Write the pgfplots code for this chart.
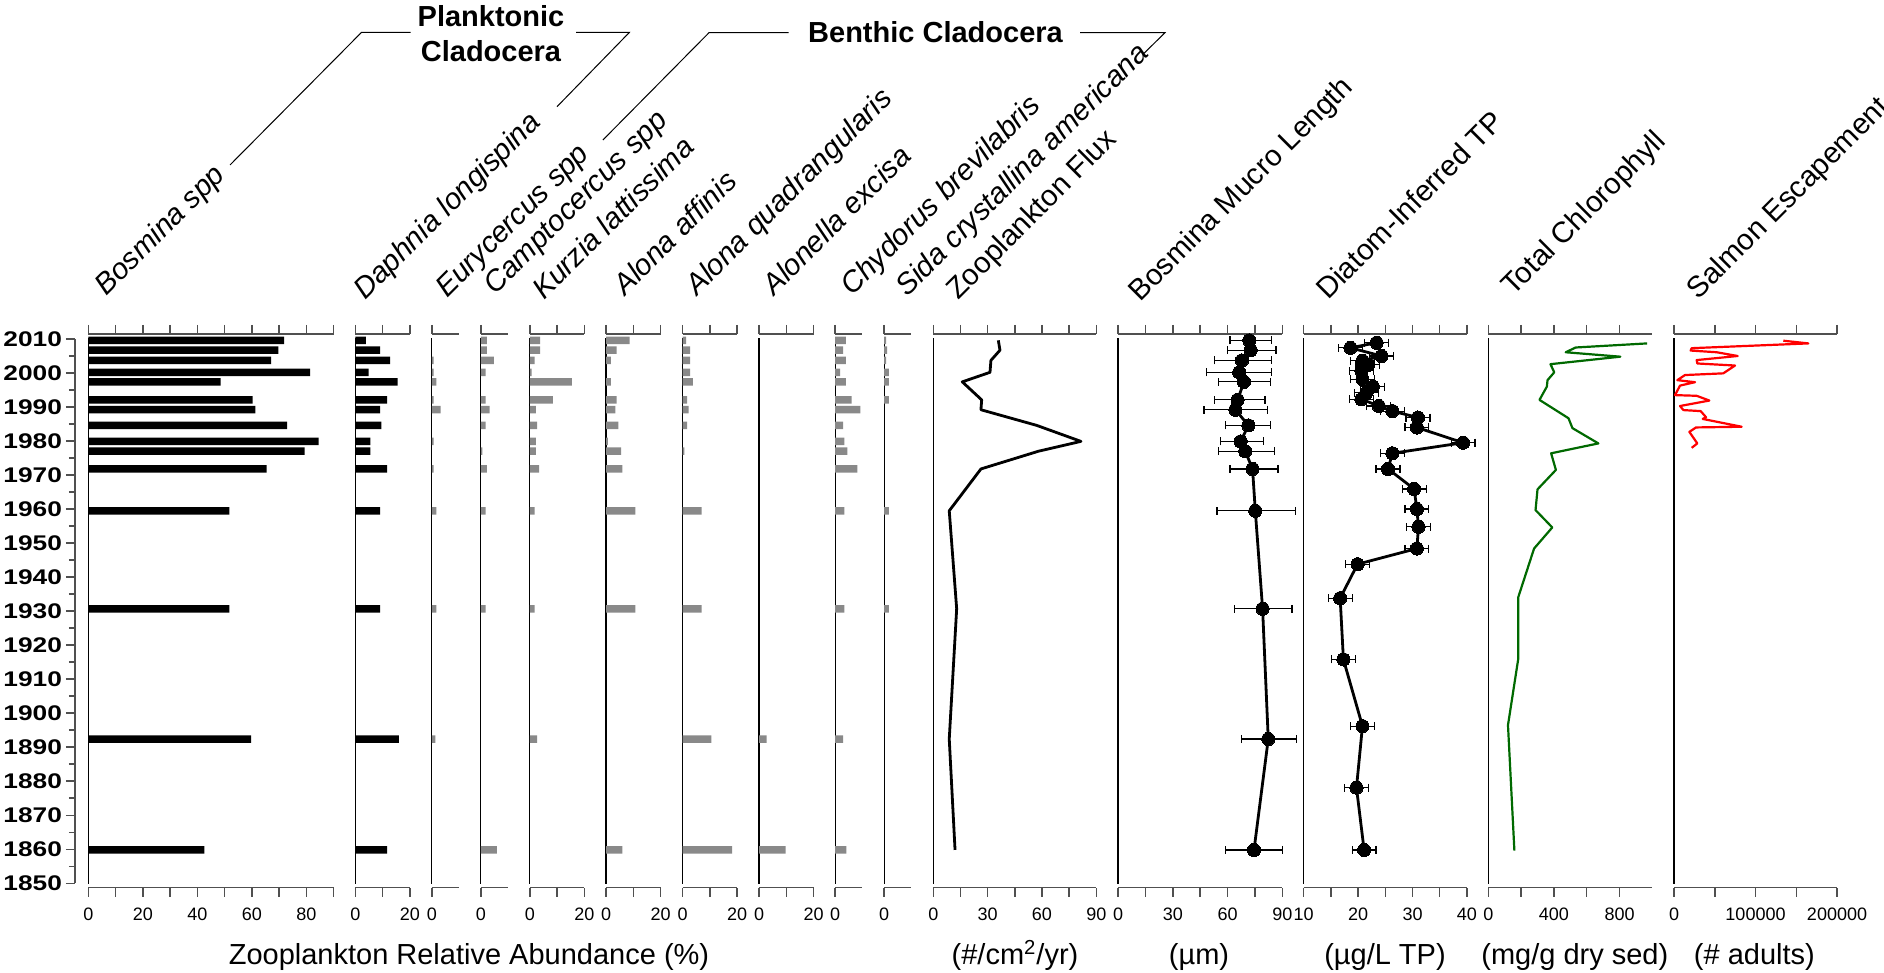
\documentclass[border=0pt]{standalone}
\usepackage{graphicx}
\usepackage{pgfplots}
\pgfplotsset{compat=1.18}
\usepackage{fontspec}
\setmainfont{Liberation Sans}
\newcommand{\yl}[1]{\scalebox{1.24}[1]{#1}}
\definecolor{bargray}{RGB}{137,137,137}
\definecolor{chlgreen}{RGB}{0,105,0}
\definecolor{axgray}{RGB}{80,80,80}

\pgfplotsset{
  panel/.style={
    scale only axis, height=276.85pt,
    ymin=1848.7, ymax=2011.47, xmin=0,
    separate axis lines,
    axis x line=box, axis y line=left,
    x axis line style={-, draw=axgray, line width=0.75pt},
    y axis line style={-, draw=black, line width=0.6pt, shorten <=2pt, shorten >=2pt},
    ytick=\empty,
    xtick pos=both, xticklabel pos=lower,
    tick align=outside, major tick length=4.5pt,
    tick style={draw=axgray, line width=0.75pt},
    xticklabel style={font=\fontsize{9}{10}\selectfont, yshift=-2pt, text=black},
    clip=false,
  },
  pct20/.style={panel, width=27.27pt, xmax=20, xtick={0,10,20}, xticklabels={0,,20}},
  pct10/.style={panel, width=13.635pt, xmax=10, xtick={0}, xticklabels={0}},
  bp/.style={xbar, bar width=3.75pt, draw=none, fill=#1},
}

\begin{document}
\begin{tikzpicture}
\useasboundingbox (0,0) rectangle (942pt,486.5pt);

% year axis
\begin{axis}[at={(37.5pt,44.85pt)}, anchor=south west, scale only axis, width=10pt, height=272.15pt,
  xmin=0, xmax=1, ymin=1850, ymax=2010,
  axis x line=none, axis y line=left, y axis line style={-, line width=0.75pt, draw=axgray},
  ytick={1850,1860,1870,1880,1890,1900,1910,1920,1930,1940,1950,1960,1970,1980,1990,2000,2010},
  yticklabels={\yl{1850},\yl{1860},\yl{1870},\yl{1880},\yl{1890},\yl{1900},\yl{1910},\yl{1920},\yl{1930},\yl{1940},\yl{1950},\yl{1960},\yl{1970},\yl{1980},\yl{1990},\yl{2000},\yl{2010}},
  minor ytick={1855,1865,1875,1885,1895,1905,1915,1925,1935,1945,1955,1965,1975,1985,1995,2005},
  tick align=outside, major tick length=4.5pt, minor tick length=3pt,
  tick style={draw=axgray, line width=0.75pt},
  yticklabel style={font=\fontsize{10.6}{12}\selectfont\bfseries, xshift=1.5pt},
]
\end{axis}

% Bosmina
\begin{axis}[panel, at={(44.15pt,42.65pt)}, anchor=south west, width=122.72pt, xmax=90,
  xtick={0,10,20,30,40,50,60,70,80,90}, xticklabels={0,,20,,40,,60,,80,}]
\addplot[bp=black] coordinates {(71.8,2009.6)(69.7,2006.7)(67.0,2003.7)(81.3,2000.2)(48.5,1997.4)(60.3,1992.1)(61.3,1989.2)(72.9,1984.6)(84.5,1979.9)(79.3,1977.0)(65.4,1971.8)(51.7,1959.5)(51.7,1930.7)(59.7,1892.4)(42.6,1859.8)};
\end{axis}

% Daphnia
\begin{axis}[pct20, at={(177.65pt,42.65pt)}, anchor=south west]
\addplot[bp=black] coordinates {(3.9,2009.6)(9.1,2006.7)(12.8,2003.7)(4.9,2000.2)(15.5,1997.4)(11.7,1992.1)(9.1,1989.2)(9.6,1984.6)(5.5,1979.9)(5.5,1977.0)(11.7,1971.8)(9.1,1959.5)(9.1,1930.7)(16.0,1892.4)(11.7,1859.8)};
\end{axis}

% Eurycercus
\begin{axis}[pct10, at={(215.9pt,42.65pt)}, anchor=south west]
\addplot[bp=bargray] coordinates {(0.7,2003.7)(0.7,2000.2)(1.7,1997.4)(0.7,1992.1)(3.2,1989.2)(0.7,1979.9)(0.7,1971.8)(1.7,1959.5)(1.7,1930.7)(1.3,1892.4)};
\end{axis}

% Camptocercus
\begin{axis}[pct10, at={(240.4pt,42.65pt)}, anchor=south west]
\addplot[bp=bargray] coordinates {(2.2,2009.6)(2.2,2006.7)(4.8,2003.7)(1.8,2000.2)(1.8,1992.1)(3.2,1989.2)(1.8,1984.6)(0.6,1977.0)(2.2,1971.8)(1.8,1959.5)(1.8,1930.7)(5.9,1859.8)};
\end{axis}

% Kurzia
\begin{axis}[pct20, at={(264.9pt,42.65pt)}, anchor=south west]
\addplot[bp=bargray] coordinates {(3.8,2009.6)(3.8,2006.7)(1.8,2003.7)(0.7,2000.2)(15.4,1997.4)(8.5,1992.1)(2.2,1989.2)(2.7,1984.6)(2.2,1979.9)(2.2,1977.0)(3.4,1971.8)(1.8,1959.5)(1.8,1930.7)(2.7,1892.4)};
\end{axis}

% Alona affinis
\begin{axis}[pct20, at={(303.0pt,42.65pt)}, anchor=south west]
\addplot[bp=bargray] coordinates {(8.7,2009.6)(3.9,2006.7)(1.8,2003.7)(1.8,1997.4)(3.9,1992.1)(3.4,1989.2)(4.5,1984.6)(0.7,1979.9)(5.5,1977.0)(6.0,1971.8)(10.8,1959.5)(10.8,1930.7)(6.0,1859.8)};
\end{axis}

% Alona quadrangularis
\begin{axis}[pct20, at={(341.25pt,42.65pt)}, anchor=south west]
\addplot[bp=bargray] coordinates {(1.3,2009.6)(2.8,2006.7)(2.8,2003.7)(2.8,2000.2)(3.8,1997.4)(1.7,1992.1)(2.2,1989.2)(1.7,1984.6)(0.7,1977.0)(7.0,1959.5)(7.0,1930.7)(10.6,1892.4)(18.2,1859.8)};
\end{axis}

% Alonella excisa
\begin{axis}[pct20, at={(379.5pt,42.65pt)}, anchor=south west]
\addplot[bp=bargray] coordinates {(2.8,1892.4)(9.8,1859.8)};
\end{axis}

% Chydorus
\begin{axis}[pct10, at={(417.6pt,42.65pt)}, anchor=south west]
\addplot[bp=bargray] coordinates {(3.9,2009.6)(2.9,2006.7)(3.9,2003.7)(1.8,2000.2)(3.9,1997.4)(6.0,1992.1)(9.2,1989.2)(2.9,1984.6)(3.4,1979.9)(4.5,1977.0)(8.1,1971.8)(3.4,1959.5)(3.4,1930.7)(2.9,1892.4)(4.1,1859.8)};
\end{axis}

% Sida
\begin{axis}[pct10, at={(442.1pt,42.65pt)}, anchor=south west]
\addplot[bp=bargray] coordinates {(0.7,2009.6)(1.1,2006.7)(0.7,2003.7)(1.7,2000.2)(1.7,1997.4)(1.7,1992.1)(1.7,1959.5)(1.7,1930.7)};
\end{axis}

% Flux
\begin{axis}[panel, at={(466.65pt,42.65pt)}, anchor=south west, width=81.5pt, xmax=90,
  xtick={0,15,30,45,60,75,90}, xticklabels={0,,30,,60,,90}]
\addplot[black, line width=1.4pt, line join=round] coordinates {(35.9,2009.6)(36.8,2006.7)(31.8,2003.7)(31.3,2000.2)(16.0,1997.4)(26.7,1992.1)(26.3,1989.2)(57.1,1984.6)(81.5,1979.9)(58.0,1977.0)(26.3,1971.8)(8.8,1959.5)(12.9,1930.7)(8.8,1892.4)(12.0,1859.8)};
\end{axis}

% Mucro
\begin{axis}[panel, at={(559.0pt,42.65pt)}, anchor=south west, width=82.15pt, xmax=90,
  xtick={0,15,30,45,60,75,90}, xticklabels={0,,30,,60,,90}]
\addplot[black, line width=1.4pt, line join=round, mark=*, mark size=3.3pt, mark options={solid, fill=black, line width=0pt},
  error bars/.cd, x dir=both, x explicit, error mark=|,
  error bar style={line width=0.6pt, black},
  error mark options={line width=0.6pt, mark size=2pt, black}]
 table[x=x, y=y, x error plus=ep, x error minus=em] {
 x y ep em
 71.9 2009.6 12.3 10.6
 72.7 2006.7 13.8 12.8
 67.9 2003.7 16.3 15.0
 66.4 2000.2 17.8 17.8
 69.0 1997.4 14.4 13.9
 65.5 1992.1 15.0 12.6
 64.3 1989.2 17.8 17.2
 71.4 1984.6 12.0 12.4
 67.2 1979.9 12.6 11.2
 69.7 1977.0 16.1 14.6
 73.7 1971.8 13.9 12.4
 75.2 1959.5 21.9 21.0
 79.2 1930.7 16.1 15.5
 82.3 1892.4 15.5 14.6
 74.5 1859.8 15.5 15.5
 };
\end{axis}

% Diatom TP
\begin{axis}[panel, at={(651.85pt,42.65pt)}, anchor=south west, width=81.6pt, xmin=10, xmax=40,
  xtick={10,15,20,25,30,35,40}, xticklabels={10,,20,,30,,40}]
\addplot[black, line width=1.4pt, line join=round, mark=*, mark size=3.3pt, mark options={solid, fill=black, line width=0pt},
  error bars/.cd, x dir=both, x explicit, error mark=|,
  error bar style={line width=0.6pt, black},
  error mark options={line width=0.6pt, mark size=2pt, black}]
 table[x=x, y=y, x error plus=e, x error minus=e] {
 x y e
 23.4 2008.9 2.2
 18.6 2007.4 2.2
 24.3 2005.0 2.2
 20.8 2003.6 2.2
 21.8 2002.4 2.2
 20.6 2000.7 2.2
 20.8 1998.2 2.2
 22.7 1996.0 2.2
 21.5 1994.2 2.2
 20.6 1992.3 2.2
 23.8 1990.3 2.2
 26.3 1988.8 2.2
 31.0 1986.9 2.2
 30.8 1984.0 2.2
 39.3 1979.5 2.2
 26.3 1976.4 2.2
 25.5 1971.8 2.2
 30.3 1965.9 2.2
 30.8 1960.0 2.2
 31.1 1954.8 2.2
 30.8 1948.4 2.2
 19.9 1943.8 2.2
 16.7 1933.8 2.2
 17.3 1915.8 2.2
 20.8 1896.2 2.2
 19.7 1878.1 2.2
 21.1 1859.8 2.2
 };
\end{axis}

% Chlorophyll
\begin{axis}[panel, at={(744.15pt,42.65pt)}, anchor=south west, width=82.0pt, xmax=1000,
  xtick={0,200,400,600,800}, xticklabels={0,,400,,800}]
\addplot[chlgreen, line width=1.1pt, line join=round] coordinates {(968,2008.7)(533,2007.5)(472,2006.1)(805,2004.8)(379,2002.6)(402,2000.2)(361,1997.9)(357,1996.0)(312,1992.1)(489,1986.7)(513,1983.8)(671,1979.3)(383,1976.4)(412,1971.5)(300,1965.8)(288,1959.7)(390,1954.6)(279,1948.4)(182,1934.0)(182,1915.8)(120,1896.5)(159,1859.6)};
\end{axis}

% Salmon
\begin{axis}[panel, at={(837.0pt,42.65pt)}, anchor=south west, width=81.5pt, xmax=200000,
  scaled x ticks=false,
  xtick={0,50000,100000,150000,200000}, xticklabels={0,,100000,,200000}]
\addplot[red, line width=1.1pt, line join=round] coordinates {(134100,2009.5)(164800,2008.7)(21700,2007.3)(20400,2006.6)(52400,2006.1)(78100,2005.0)(27800,2003.8)(28600,2002.8)(74800,2002.2)(60500,1999.9)(13500,1999.4)(4100,1997.9)(25800,1997.3)(7400,1996.3)(1200,1993.5)(27800,1993.3)(43400,1991.9)(7400,1990.3)(11500,1989.1)(32700,1988.8)(39300,1987.0)(35200,1986.5)(83000,1984.2)(27000,1984.0)(18800,1982.7)(28600,1979.3)(21700,1978.0)};
\end{axis}

% rotated labels
\begin{scope}[every node/.style={rotate=45, anchor=base west, inner sep=0pt, font=\fontsize{14.7}{17}\selectfont}]
\node[font=\fontsize{14.7}{17}\selectfont\itshape] at (53pt,338pt) {Bosmina spp};
\node[font=\fontsize{14.7}{17}\selectfont\itshape] at (182.5pt,336pt) {Daphnia longispina};
\node[font=\fontsize{14.7}{17}\selectfont\itshape] at (223.5pt,337pt) {Eurycercus spp};
\node[font=\fontsize{14.7}{17}\selectfont\itshape] at (247.5pt,338.5pt) {Camptocercus spp};
\node[font=\fontsize{14.7}{17}\selectfont\itshape] at (272pt,336pt) {Kurzia lattissima};
\node[font=\fontsize{14.7}{17}\selectfont\itshape] at (312.5pt,338pt) {Alona affinis};
\node[font=\fontsize{14.7}{17}\selectfont\itshape] at (348.5pt,338pt) {Alona quadrangularis};
\node[font=\fontsize{14.7}{17}\selectfont\itshape] at (387pt,338pt) {Alonella excisa};
\node[font=\fontsize{14.7}{17}\selectfont\itshape] at (426pt,338pt) {Chydorus brevilabris};
\node[font=\fontsize{14.7}{17}\selectfont\itshape] at (453.5pt,337.5pt) {Sida crystallina americana};
\node at (479pt,336pt) {Zooplankton Flux};
\node at (570pt,335pt) {Bosmina Mucro Length};
\node at (664pt,336pt) {Diatom-Inferred TP};
\node at (756.5pt,338pt) {Total Chlorophyll};
\node at (849pt,336pt) {Salmon Escapement};
\end{scope}

% group headers
\begin{scope}[every node/.style={anchor=base, inner sep=0pt, font=\fontsize{14.5}{17}\selectfont\bfseries}]
\node at (245.5pt,473.15pt) {Planktonic};
\node at (245.5pt,455.65pt) {Cladocera};
\node at (467.75pt,465.15pt) {Benthic Cladocera};
\end{scope}
\draw[line width=0.5pt] (115pt,404pt) -- (180.8pt,470.35pt) -- (205.35pt,470.35pt);
\draw[line width=0.5pt] (288pt,470.35pt) -- (314.75pt,470.35pt) -- (278.5pt,433.15pt);
\draw[line width=0.5pt] (301.45pt,416.5pt) -- (354.5pt,470.15pt) -- (394.3pt,470.15pt);
\draw[line width=0.5pt] (540pt,470.15pt) -- (582.5pt,470.15pt) -- (572pt,459.85pt);

% unit labels
\begin{scope}[every node/.style={anchor=base, inner sep=0pt, font=\fontsize{14.5}{17}\selectfont}]
\node at (234.5pt,4pt) {Zooplankton Relative Abundance (\%)};
\node at (507.5pt,4pt) {(\#/cm\textsuperscript{2}/yr)};
\node at (599.5pt,4pt) {(µm)};
\node at (692.5pt,4pt) {(µg/L TP)};
\node at (787.4pt,4pt) {(mg/g dry sed)};
\node at (877.2pt,4pt) {(\# adults)};
\end{scope}
\end{tikzpicture}
\end{document}
